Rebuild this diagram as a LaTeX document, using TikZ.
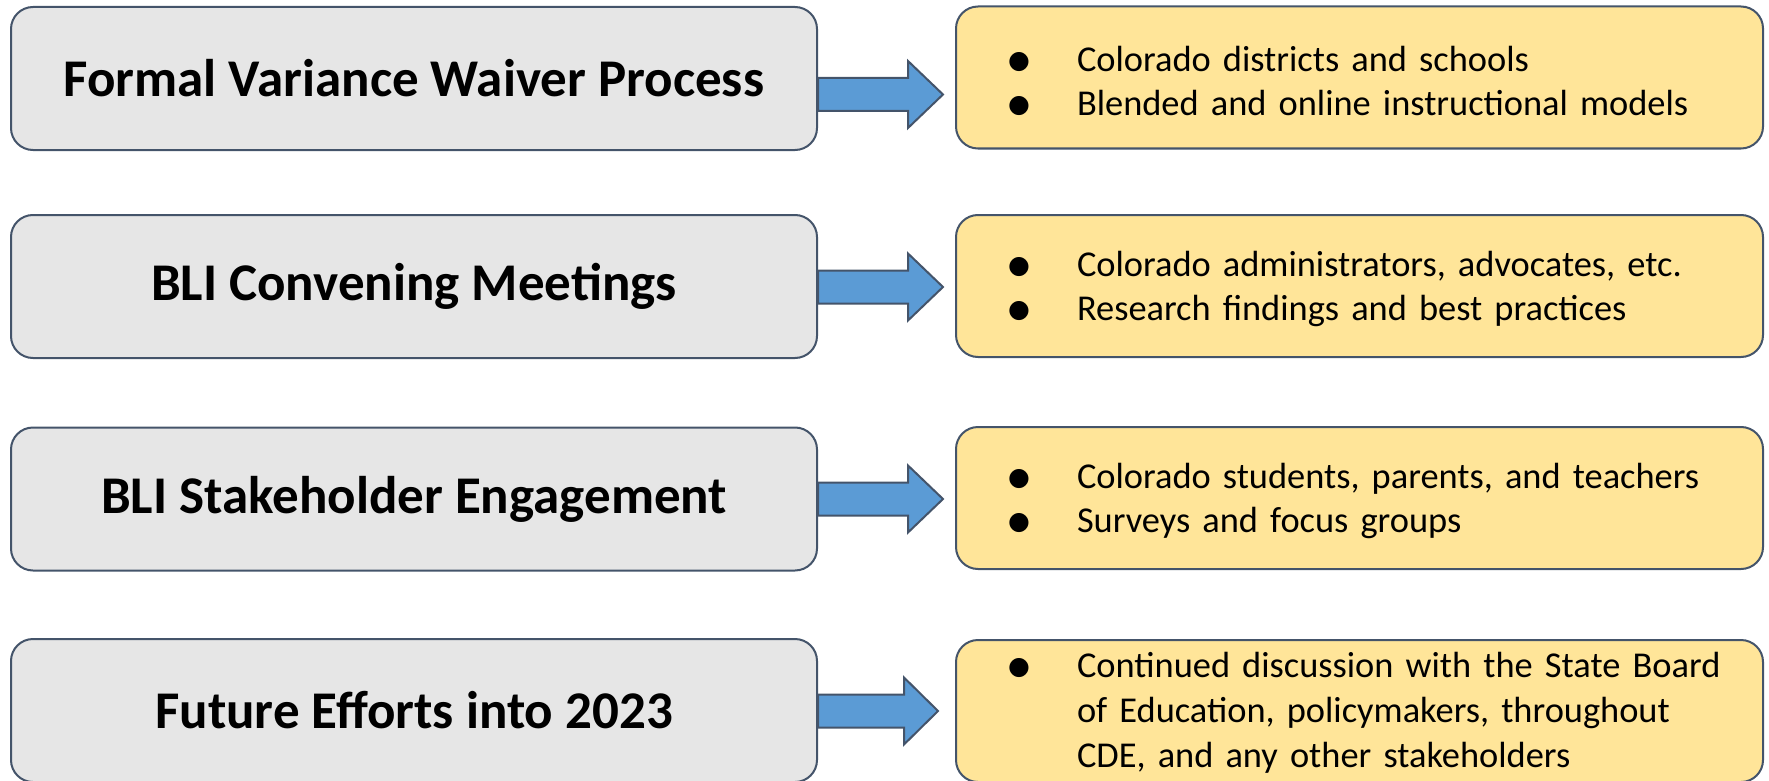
\documentclass[tikz,border=0pt]{standalone}
\usepackage{fontspec}
\setmainfont{Carlito}
\newfontfamily\symfont{DejaVu Sans}
\usetikzlibrary{calc}

\definecolor{edgeblue}{HTML}{44546A}
\definecolor{stepgray}{HTML}{E6E6E6}
\definecolor{noteyellow}{HTML}{FFE599}
\definecolor{arrowblue}{HTML}{5B9BD5}

% one bullet line, and a continuation line with the same indent
\newcommand{\bulmark}{\raisebox{3pt}{\symfont\fontsize{25}{25}\selectfont ●}}
\newcommand{\bulitem}[1]{\makebox[121pt][l]{\hspace{53pt}\makebox[20pt][c]{\bulmark}}#1}
\newcommand{\contitem}[1]{\hspace*{121pt}#1}

% block arrow leaving a step box: #1 source node, #2 vertical offset,
% #3 shaft length, #4 head length
\newcommand{\blockarrow}[4]{%
  \draw[arrowshape] ($(#1.east)+(0,#2-16.5)$) -- ++(#3,0) -- ++(0,-17)
    -- ++(#4,33.5) -- ++(-#4,33.5) -- ++(0,-17) -- ++(-#3,0) -- cycle;}

\tikzset{
  stepbox/.style={draw=edgeblue, line width=2pt, fill=stepgray,
    rounded corners=22pt, minimum width=806pt, minimum height=143pt,
    inner sep=0pt, font=\fontsize{53}{64}\selectfont\bfseries},
  notebox/.style={draw=edgeblue, line width=2pt, fill=noteyellow,
    rounded corners=22pt, minimum width=807pt, minimum height=142pt,
    inner sep=0pt},
  notetext/.style={inner sep=0pt, text width=807pt, align=left,
    font=\fontsize{36.4}{44}\selectfont},
  arrowshape/.style={draw=edgeblue, line width=2pt, fill=arrowblue,
    line join=miter}
}

\begin{document}
\begin{tikzpicture}[x=1pt,y=-1pt]
\useasboundingbox (0,0) rectangle (1769,781);

% left column: the four efforts
\node[stepbox] (s1) at (414,78.5)  {Formal Variance Waiver Process};
\node[stepbox] (s2) at (414,286.5) {BLI Convening Meetings};
\node[stepbox] (s3) at (414,499)   {BLI Stakeholder Engagement};
\node[stepbox] (s4) at (414,710.5) {Future Efforts into 2023};

% right column: who and what each effort involves
\node[notebox] (n1) at (1359.5,77.5) {};
\node[notebox] (n2) at (1359.5,286)  {};
\node[notebox] (n3) at (1359.5,498)  {};
\node[notebox] (n4) at (1359.5,711)  {};

\node[notetext] (t1) at ($(n1.center)+(0,3)$) {\bulitem{Colorado districts and schools}\\
  \bulitem{Blended and online instructional models}};
\node[notetext] (t2) at ($(n2.center)+(0,3)$) {\bulitem{Colorado administrators, advocates, etc.}\\
  \bulitem{Research findings and best practices}};
\node[notetext] (t3) at ($(n3.center)+(0,2.5)$) {\bulitem{Colorado students, parents, and teachers}\\
  \bulitem{Surveys and focus groups}};
\node[notetext, font=\fontsize{36.4}{45}\selectfont] (t4) at ($(n4.center)+(0,2)$)
  {\bulitem{Continued discussion with the State Board}\\
  \contitem{of Education, policymakers, throughout}\\
  \contitem{CDE, and any other stakeholders}};

% connecting block arrows
\blockarrow{s1}{16}{90}{35}
\blockarrow{s2}{0.5}{90}{35}
\blockarrow{s3}{0}{90}{35}
\blockarrow{s4}{0.5}{86}{34}
\end{tikzpicture}
\end{document}
